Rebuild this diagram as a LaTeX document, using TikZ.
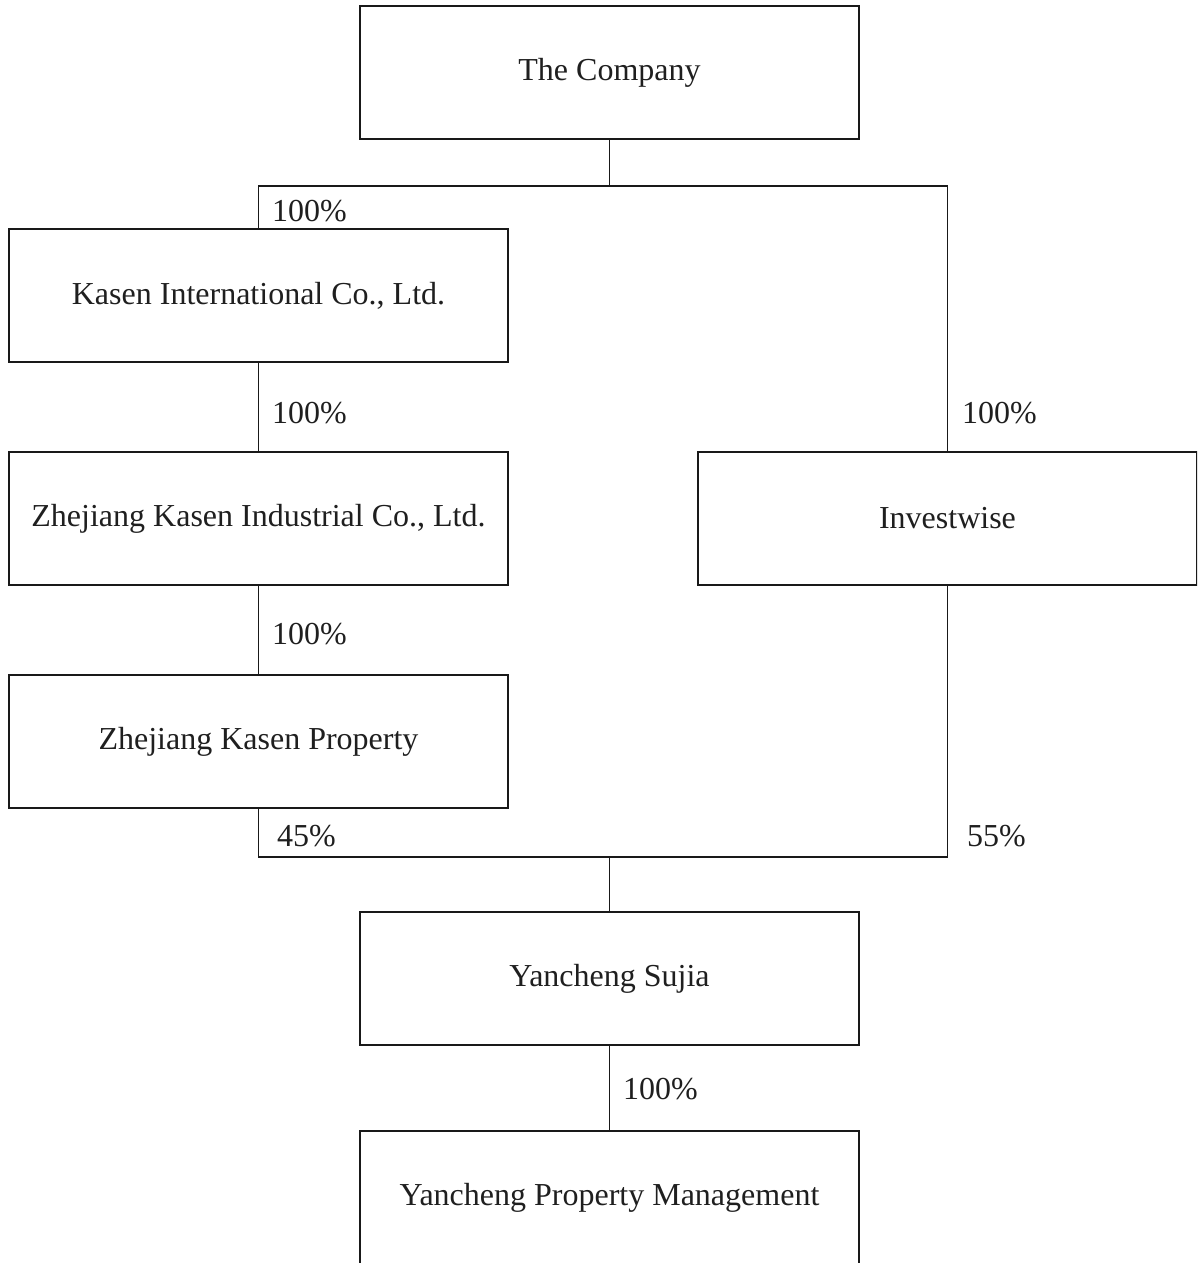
\documentclass[tikz,border=0pt]{standalone}
\usepackage{fontspec}
\setmainfont{Liberation Serif}
\begin{document}
\begin{tikzpicture}[x=1pt,y=-1pt,
  org/.style={draw=black!90, line width=1.3pt, rectangle, minimum width=499pt, minimum height=133pt, inner sep=0pt, text=black!88, font=\fontsize{32}{38}\selectfont},
  pct/.style={anchor=base west, inner sep=0pt, text=black!88, font=\fontsize{32}{38}\selectfont},
  link/.style={draw=black!90, line width=1.3pt}]
\clip (0,0) rectangle (1197,1263);
\node[org] (company) at (609.5,72.5) {The Company};
\node[org] (kasen) at (258.5,295.5) {Kasen International Co., Ltd.};
\node[org] (industrial) at (258.5,518.5) {Zhejiang Kasen Industrial Co., Ltd.};
\node[org] (property) at (258.5,741.5) {Zhejiang Kasen Property};
\node[org] (invest) at (947.5,518.5) {Investwise};
\node[org] (sujia) at (609.5,978.5) {Yancheng Sujia};
\node[org] (ypm) at (609.5,1197.5) {Yancheng Property Management};
\coordinate (jt) at (609.5,186);
\coordinate (jl) at (258.5,186);
\coordinate (jr) at (947.5,186);
\coordinate (bt) at (609.5,857);
\coordinate (bl) at (258.5,857);
\coordinate (br) at (947.5,857);
\draw[link] (company.south) -- (jt);
\draw[link] (kasen.north) -- (jl) -- (jr) -- (invest.north);
\draw[link] (kasen.south) -- (industrial.north);
\draw[link] (industrial.south) -- (property.north);
\draw[link] (property.south) -- (bl) -- (br) -- (invest.south);
\draw[link] (bt) -- (sujia.north);
\draw[link] (sujia.south) -- (ypm.north);
\node[pct] (p1) at (272,221) {100\%};
\node[pct] (p2) at (272,423) {100\%};
\node[pct] (p3) at (272,644) {100\%};
\node[pct] (p4) at (277,846) {45\%};
\node[pct] (p5) at (962,423) {100\%};
\node[pct] (p6) at (967,846) {55\%};
\node[pct] (p7) at (623,1099) {100\%};
\end{tikzpicture}
\end{document}
